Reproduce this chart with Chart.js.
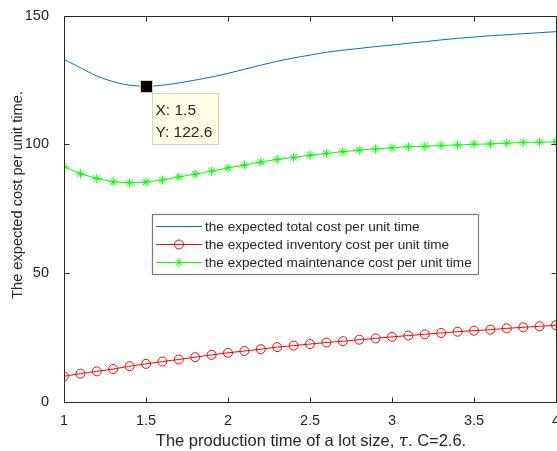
<!DOCTYPE html>
<html>
<head>
<meta charset="utf-8">
<script src="https://cdn.jsdelivr.net/npm/chart.js@4.4.1/dist/chart.umd.min.js"></script>
<style>
html,body{margin:0;padding:0;background:#fff;overflow:hidden;}
#wrap{width:600px;height:451px;}
</style>
</head>
<body>
<div id="wrap"><canvas id="grafik" width="600" height="451"></canvas></div>
<script>
// =========================
// DATA
// =========================

let tau = [1.0,1.1,1.2,1.3,1.4,1.5,1.6,1.7,1.8,1.9,2.0,2.1,2.2,2.3,2.4,2.5,2.6,2.7,2.8,2.9,3.0,3.1,3.2,3.3,3.4,3.5,3.6,3.7,3.8,3.9,4.0];

let totalCost = [133.0,129.8,126.6,124.4,123.0,122.6,123.0,123.9,125.0,126.2,127.6,129.2,130.8,132.3,133.6,134.7,135.8,136.6,137.3,138.0,138.6,139.3,139.9,140.6,141.2,141.7,142.2,142.6,143.0,143.4,143.8];

let inventoryCost = [10.0,11.0,11.9,12.8,13.9,14.8,15.7,16.5,17.4,18.3,19.1,19.8,20.5,21.3,21.9,22.5,23.1,23.6,24.2,24.7,25.3,25.8,26.3,26.8,27.3,27.7,28.1,28.6,29.0,29.4,29.8];

let maintenanceCost = [91.5,88.6,86.8,85.5,85.1,85.4,86.2,87.4,88.5,89.6,90.9,92.0,93.2,94.2,95.0,95.8,96.5,97.2,97.8,98.3,98.7,99.1,99.3,99.6,99.8,100.1,100.2,100.5,100.8,100.9,101.0];

let seriesNames = [
"the expected total cost per unit time",
"the expected inventory cost per unit time",
"the expected maintenance cost per unit time"
];

let xTicks = [1,1.5,2,2.5,3,3.5,4];
let yTicks = [0,50,100,150];

let tipX = 1.5;
let tipY = 122.6;

let FONT = "'Liberation Sans', Arial, sans-serif";
let TEXT = "#262626";

function pts(ys){
return tau.map(function(x,i){ return {x:x, y:ys[i]}; });
}


// =========================
// PLUGIN: kotak sumbu, label x, judul, datatip, legenda
// =========================

let hiasan = {
id:"hiasan",
afterDatasetsDraw:function(chart){

let ctx = chart.ctx;
let a = chart.chartArea;
let sx = chart.scales.x;
let sy = chart.scales.y;

ctx.save();

// kotak sumbu + tick ke dalam
ctx.strokeStyle = TEXT;
ctx.lineWidth = 1;
let L = Math.round(a.left)+0.5, R = Math.round(a.right)+0.5;
let T = Math.round(a.top)+0.5, B = Math.round(a.bottom)+0.5;
ctx.beginPath();
ctx.rect(L, T, R-L, B-T);
xTicks.forEach(function(v){
let px = Math.round(sx.getPixelForValue(v))+0.5;
ctx.moveTo(px,B); ctx.lineTo(px,B-5);
ctx.moveTo(px,T); ctx.lineTo(px,T+5);
});
yTicks.forEach(function(v){
let py = Math.round(sy.getPixelForValue(v))+0.5;
ctx.moveTo(L,py); ctx.lineTo(L+5,py);
ctx.moveTo(R,py); ctx.lineTo(R-5,py);
});
ctx.stroke();

// label tick x
ctx.fillStyle = TEXT;
ctx.font = "14.5px " + FONT;
ctx.textAlign = "center";
ctx.textBaseline = "middle";
xTicks.forEach(function(v){
ctx.fillText(String(v), sx.getPixelForValue(v), a.bottom + 18.5);
});

// judul sumbu x (tau miring)
ctx.textBaseline = "alphabetic";
let p1 = "The production time of a lot size, ";
let p2 = "\u03c4";
let p3 = ". C=2.6.";
let f1 = "16.5px " + FONT;
let f2 = "italic 16.5px 'DejaVu Serif', serif";
ctx.font = f1; let w1 = ctx.measureText(p1).width; let w3 = ctx.measureText(p3).width;
ctx.font = f2; let w2 = ctx.measureText(p2).width;
let cx = (a.left + a.right)/2 + 1;
let x0 = cx - (w1+w2+w3)/2;
let by = 445.5;
ctx.textAlign = "left";
ctx.font = f1; ctx.fillText(p1, x0, by);
ctx.font = f2; ctx.fillText(p2, x0+w1, by);
ctx.font = f1; ctx.fillText(p3, x0+w1+w2, by);

// judul sumbu y
ctx.save();
ctx.translate(18, 195);
ctx.rotate(-Math.PI/2);
ctx.textAlign = "center";
ctx.textBaseline = "middle";
ctx.font = "14.6px " + FONT;
ctx.fillText("The expected cost per unit time.", 0, 0);
ctx.restore();

// datatip
let tx = sx.getPixelForValue(tipX);
let ty = sy.getPixelForValue(tipY);
ctx.fillStyle = "#000";
ctx.strokeStyle = "#d8d0a8";
ctx.fillRect(Math.round(tx)-5, Math.round(ty)-5, 11, 11);
ctx.strokeRect(Math.round(tx)-5.5, Math.round(ty)-5.5, 12, 12);
let bx = Math.round(tx)+6.5, byy = Math.round(ty)+7.5;
ctx.fillStyle = "#ffffe6";
ctx.strokeStyle = "#d6d6c6";
ctx.fillRect(bx, byy, 66, 51);
ctx.strokeRect(bx, byy, 66, 51);
ctx.fillStyle = TEXT;
ctx.font = "15.5px " + FONT;
ctx.textAlign = "left";
ctx.textBaseline = "alphabetic";
ctx.fillText("X: " + tipX, bx+3, byy+21);
ctx.fillText("Y: " + tipY, bx+3, byy+43);

// legenda
let lx = 152.5, ly = 214.5, lw = 326, lh = 60;
ctx.fillStyle = "#fff";
ctx.fillRect(lx, ly, lw, lh);
ctx.strokeStyle = "#7a7a7a";
ctx.lineWidth = 1.2;
ctx.strokeRect(lx, ly, lw, lh);
chart.data.datasets.forEach(function(ds,i){
if(!ds.label) return;
let ry = 226 + i*18;
ctx.strokeStyle = ds.borderColor;
ctx.lineWidth = 1;
ctx.beginPath();
ctx.moveTo(156, ry+0.5); ctx.lineTo(202, ry+0.5);
ctx.stroke();
if(ds.pointStyle && ds.pointRadius>0){
ctx.fillStyle = "rgba(0,0,0,0)";
ctx.strokeStyle = ds.pointBorderColor;
Chart.helpers.drawPoint(ctx, {
pointStyle: ds.pointStyle, radius: ds.pointRadius, borderWidth: 1, rotation: 0
}, 179, ry+0.5);
}
ctx.fillStyle = TEXT;
ctx.font = "13.6px " + FONT;
ctx.textBaseline = "middle";
ctx.fillText(ds.label, 205, ry+1);
});

ctx.restore();
}
};


// =========================
// GRAFIK
// =========================

let ctx1 = document.getElementById("grafik");

new Chart(ctx1,{
type:"line",
data:{
datasets:[
{
label:seriesNames[0],
data:pts(totalCost),
borderColor:"#0072BD",
borderWidth:1,
pointRadius:0,
cubicInterpolationMode:"monotone"
},
{
label:seriesNames[1],
data:pts(inventoryCost),
borderColor:"#ff0000",
backgroundColor:"rgba(0,0,0,0)",
borderWidth:1,
pointStyle:"circle",
pointRadius:4.5,
pointBorderColor:"#ff0000",
pointBackgroundColor:"rgba(0,0,0,0)",
pointBorderWidth:1
},
{
label:seriesNames[2],
data:pts(maintenanceCost),
borderColor:"#00ff00",
borderWidth:1,
pointStyle:"star",
pointRadius:4.5,
pointBorderColor:"#00ff00",
pointBorderWidth:1
}
]
},
options:{
responsive:false,
animation:false,
devicePixelRatio:1,
layout:{padding:{top:12,right:44,left:0,bottom:0}},
plugins:{legend:{display:false},tooltip:{enabled:false}},
scales:{
x:{
type:"linear",
min:1,max:4,
afterBuildTicks:function(s){ s.ticks = xTicks.map(function(v){return {value:v};}); },
afterFit:function(s){ s.height = 49; },
grid:{display:false},
border:{display:false},
ticks:{display:false}
},
y:{
min:0,max:150,
afterBuildTicks:function(s){ s.ticks = yTicks.map(function(v){return {value:v};}); },
afterFit:function(s){ s.width = 64; },
grid:{display:false},
border:{display:false},
ticks:{
color:TEXT,
padding:7,
font:{family:FONT,size:14.5}
}
}
}
},
plugins:[hiasan]
});
</script>
</body>
</html>
